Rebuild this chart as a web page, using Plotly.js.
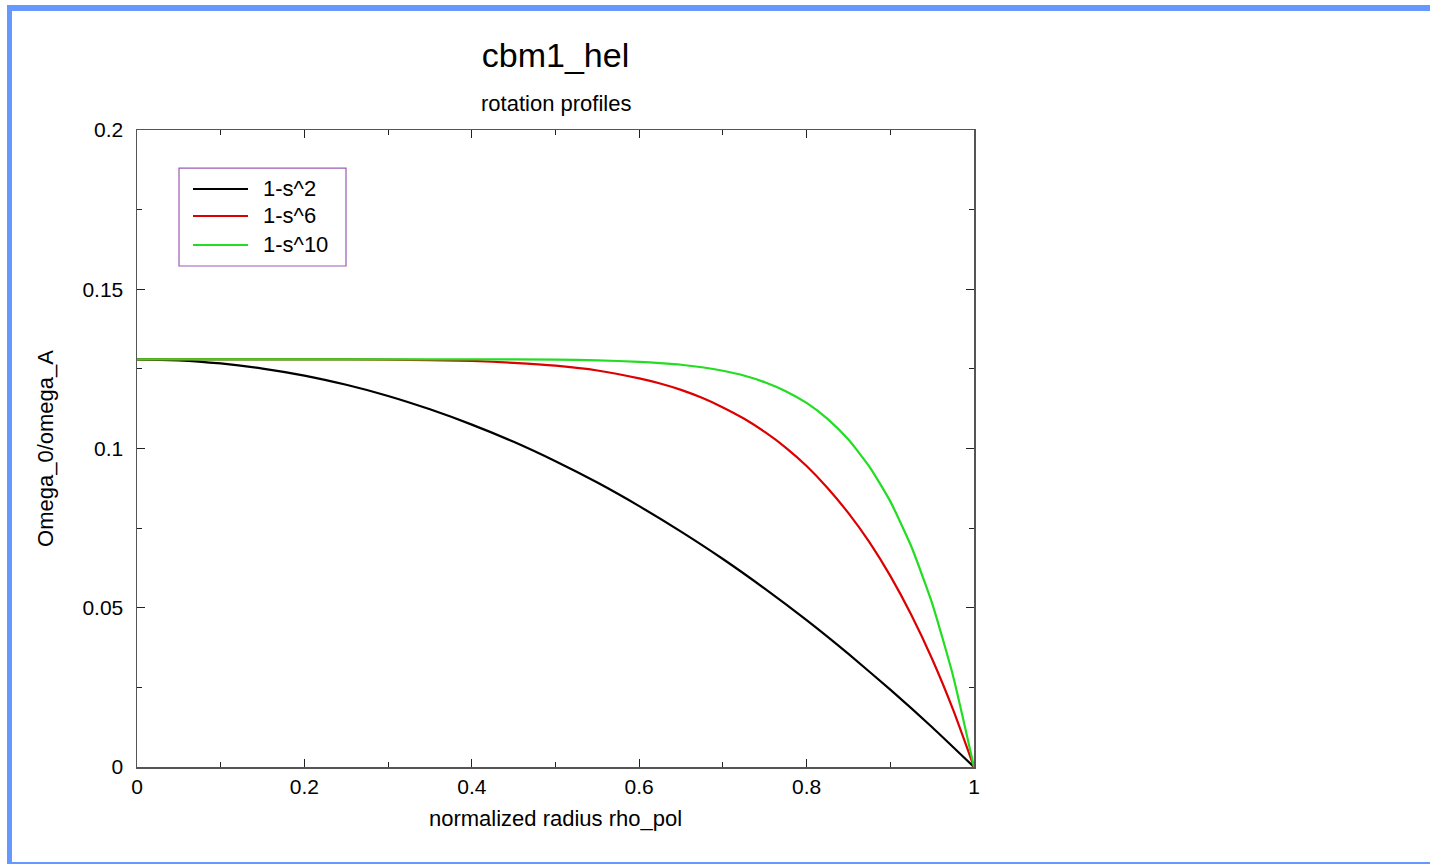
<!DOCTYPE html>
<html>
<head>
<meta charset="utf-8">
<script src="https://cdn.plot.ly/plotly-3.0.1.min.js"></script>
<style>
  html, body { margin: 0; padding: 0; background: #ffffff; }
  #wrap { position: relative; width: 1430px; height: 864px; overflow: hidden; }
  #chart { position: absolute; left: 0; top: 0; width: 1430px; height: 864px; }
  .frame { position: absolute; background: #6699ff; }
</style>
</head>
<body>
<div id="wrap">
  <div id="chart"></div>
  <div class="frame" style="left:7px; top:5px; width:1423px; height:6px;"></div>
  <div class="frame" style="left:7px; top:5px; width:5px; height:859px;"></div>
  <div class="frame" style="left:7px; top:862px; width:1423px; height:2px;"></div>
</div>
<script>
// normalized radius rho_pol
const rhoBlack = [0, 0.05, 0.1, 0.15, 0.2, 0.25, 0.3, 0.35, 0.4, 0.45, 0.5, 0.55, 0.6, 0.65, 0.7, 0.75, 0.8, 0.85, 0.9, 0.95, 1.0];
const omegaBlack = [0.1280, 0.1277, 0.1267, 0.1251, 0.1229, 0.1200, 0.1165, 0.1123, 0.1075, 0.1021, 0.0960, 0.0893, 0.0819, 0.0739, 0.0653, 0.0560, 0.0461, 0.0355, 0.0243, 0.0125, 0.0];

const rhoRed = [0, 0.1, 0.2, 0.3, 0.4, 0.45, 0.5, 0.55, 0.6, 0.625, 0.65, 0.675, 0.7, 0.725, 0.75, 0.775, 0.8, 0.825, 0.85, 0.875, 0.9, 0.925, 0.95, 0.975, 1.0];
const omegaRed = [0.1280, 0.1280, 0.1280, 0.1279, 0.1275, 0.1269, 0.1260, 0.1245, 0.1220, 0.1204, 0.1184, 0.1159, 0.1129, 0.1094, 0.1052, 0.1003, 0.0945, 0.0876, 0.0797, 0.0706, 0.0600, 0.0478, 0.0339, 0.0180, 0.0];

const rhoGreen = [0, 0.1, 0.2, 0.3, 0.4, 0.5, 0.55, 0.6, 0.625, 0.65, 0.675, 0.7, 0.725, 0.75, 0.775, 0.8, 0.825, 0.85, 0.875, 0.9, 0.925, 0.95, 0.975, 1.0];
const omegaGreen = [0.1280, 0.1280, 0.1280, 0.1280, 0.1280, 0.1279, 0.1277, 0.1272, 0.1268, 0.1263, 0.1255, 0.1244, 0.1229, 0.1208, 0.1180, 0.1143, 0.1093, 0.1028, 0.0943, 0.0834, 0.0693, 0.0514, 0.0286, 0.0];

const seriesNames = ['1-s^2', '1-s^6', '1-s^10'];
const seriesColors = ['#000000', '#dd0000', '#22dd22'];

const xTicks = [0, 0.2, 0.4, 0.6, 0.8, 1];
const xTickLabels = ['0', '0.2', '0.4', '0.6', '0.8', '1'];
const yTicks = [0, 0.05, 0.1, 0.15, 0.2];
const yTickLabels = ['0', '0.05', '0.1', '0.15', '0.2'];

const FONT = 'Liberation Sans, Arial, Helvetica, sans-serif';

const xs = [rhoBlack, rhoRed, rhoGreen];
const ys = [omegaBlack, omegaRed, omegaGreen];

const traces = xs.map((x, i) => ({
  x: x, y: ys[i], type: 'scatter', mode: 'lines', name: seriesNames[i],
  line: { color: seriesColors[i], width: 2.2, shape: 'spline', smoothing: 0.5 },
  showlegend: false, hoverinfo: 'skip'
}));

// manual legend (box, line samples, labels) in paper coords
const legRowsY = [0.9074, 0.865, 0.8195];
const shapes = [{
  type: 'rect', xref: 'paper', yref: 'paper',
  x0: 0.0502, x1: 0.2497, y0: 0.7865, y1: 0.9403,
  line: { color: '#9b59b6', width: 1.2 }, fillcolor: 'rgba(255,255,255,1)', layer: 'above'
}];
const annotations = [];
seriesNames.forEach((n, i) => {
  shapes.push({ type: 'line', xref: 'paper', yref: 'paper',
    x0: 0.0669, x1: 0.1326, y0: legRowsY[i], y1: legRowsY[i],
    line: { color: seriesColors[i], width: 2.2 }, layer: 'above' });
  annotations.push({ xref: 'paper', yref: 'paper', x: 0.1481, y: legRowsY[i],
    xanchor: 'left', yanchor: 'middle', text: n, showarrow: false,
    font: { family: FONT, size: 22, color: '#000' } });
});
annotations.push({ xref: 'paper', yref: 'paper', x: 0.5, y: (767 - 103) / 637,
  xanchor: 'center', yanchor: 'middle', text: 'rotation profiles', showarrow: false,
  font: { family: FONT, size: 22, color: '#000' } });

const layout = {
  width: 1430, height: 864,
  paper_bgcolor: '#ffffff', plot_bgcolor: '#ffffff',
  margin: { l: 137, r: 456, t: 130, b: 97, pad: 0 },
  font: { family: FONT, color: '#000' },
  title: { text: 'cbm1_hel', x: 0.5, xref: 'paper', y: 1 - 55 / 864, yref: 'container',
    xanchor: 'center', yanchor: 'middle', font: { family: FONT, size: 34, color: '#000' } },
  xaxis: {
    range: [0, 1], tickvals: xTicks, ticktext: xTickLabels,
    ticks: 'inside', ticklen: 8, tickwidth: 1, tickcolor: '#222',
    minor: { dtick: 0.1, tick0: 0, ticks: 'inside', ticklen: 5, tickcolor: '#222', showgrid: false },
    showline: true, linecolor: '#555', linewidth: 1.5, mirror: 'allticks',
    showgrid: false, zeroline: false,
    tickfont: { family: FONT, size: 21, color: '#000' },
    title: { text: 'normalized radius rho_pol', standoff: 14, font: { family: FONT, size: 22, color: '#000' } }
  },
  yaxis: {
    range: [0, 0.2], tickvals: yTicks, ticktext: yTickLabels,
    ticks: 'inside', ticklen: 8, tickwidth: 1, tickcolor: '#222',
    ticklabelstandoff: 8,
    minor: { dtick: 0.025, tick0: 0, ticks: 'inside', ticklen: 5, tickcolor: '#222', showgrid: false },
    showline: true, linecolor: '#555', linewidth: 1.5, mirror: 'allticks',
    showgrid: false, zeroline: false,
    tickfont: { family: FONT, size: 21, color: '#000' },
    title: { text: 'Omega_0/omega_A', standoff: 22, font: { family: FONT, size: 22, color: '#000' } }
  },
  shapes: shapes,
  annotations: annotations,
  showlegend: false
};

Plotly.newPlot('chart', traces, layout, { displayModeBar: false, staticPlot: true });
</script>
</body>
</html>
